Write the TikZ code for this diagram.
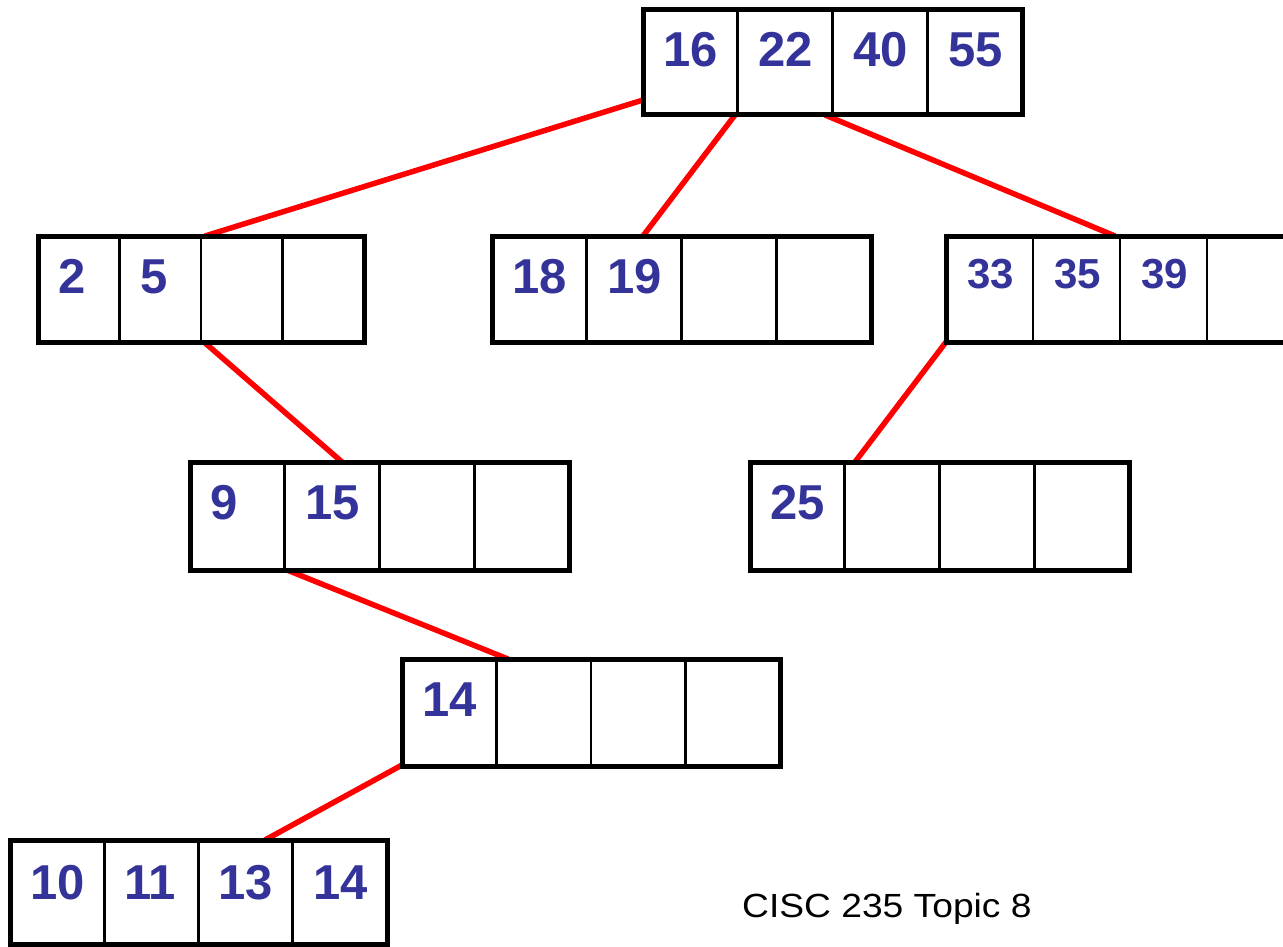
\documentclass[tikz,border=0pt]{standalone}
\usepackage{fontspec}
\setmainfont{Liberation Sans}
\usetikzlibrary{calc}
\definecolor{keyblue}{HTML}{333399}
\tikzset{
  bt/.style={draw=black, fill=white, line width=5pt, inner sep=0pt, outer sep=0pt, anchor=north west, minimum height=106pt},
  divider/.style={draw=black, line width=2.6pt},
  key/.style={text=keyblue, font=\fontsize{49}{49}\selectfont\bfseries, anchor=base west, inner sep=0pt},
  keysmall/.style={key, font=\fontsize{42}{42}\selectfont\bfseries},
  link/.style={draw=red, line width=5.5pt},
}
\newcommand{\divs}[1]{\foreach \i in {1,2,3}{\draw[divider] ($(#1.north west)!\i/4!(#1.north east)$) -- ($(#1.south west)!\i/4!(#1.south east)$);}}
\begin{document}
\begin{tikzpicture}[x=1pt,y=-1pt]
\useasboundingbox (0,0) rectangle (1283,947);
\begin{scope}
\clip (0,0) rectangle (1283,947);
% box positions
\path (643,10) coordinate (pR) (38,236) coordinate (pL) (492,236) coordinate (pM) (946,236) coordinate (pRB)
      (190,462) coordinate (pA) (750,462) coordinate (pB) (402,659) coordinate (pC) (10,840) coordinate (pD);
% links
\coordinate (l1a) at ($(pR)+(0,90)$);   \coordinate (l1b) at ($(pL)+(167,0)$);
\coordinate (l2a) at ($(pR)+(92,105)$); \coordinate (l2b) at ($(pM)+(151,0)$);
\coordinate (l3a) at ($(pR)+(182,105)$);\coordinate (l3b) at ($(pRB)+(169,0)$);
\coordinate (l4a) at ($(pL)+(166,106)$);\coordinate (l4b) at ($(pA)+(152,0)$);
\coordinate (l5a) at ($(pRB)+(0,106)$); \coordinate (l5b) at ($(pB)+(105,0)$);
\coordinate (l6a) at ($(pA)+(92,106)$); \coordinate (l6b) at ($(pC)+(106,0)$);
\coordinate (l7a) at ($(pC)+(0,106)$);  \coordinate (l7b) at ($(pD)+(255,0)$);
\draw[link] (l1a) -- (l1b);
\draw[link] (l2a) -- (l2b);
\draw[link] (l3a) -- (l3b);
\draw[link] (l4a) -- (l4b);
\draw[link] (l5a) -- (l5b);
\draw[link] (l6a) -- (l6b);
\draw[link] (l7a) -- (l7b);
% boxes
\node[bt, minimum width=379pt, minimum height=105pt] (R) at (pR) {}; \divs{R}
\node[bt, minimum width=326pt] (L) at (pL) {}; \divs{L}
\node[bt, minimum width=379pt] (M) at (pM) {}; \divs{M}
\node[bt, minimum width=348pt] (RB) at (pRB) {}; \divs{RB}
\node[bt, minimum width=379pt, minimum height=108pt] (A) at (pA) {}; \divs{A}
\node[bt, minimum width=379pt, minimum height=108pt] (B) at (pB) {}; \divs{B}
\node[bt, minimum width=378pt, minimum height=107pt] (C) at (pC) {}; \divs{C}
\node[bt, minimum width=377pt, minimum height=104pt] (D) at (pD) {}; \divs{D}
% keys
\node[key] (k16) at ($(pR)+(20,57)$) {16};
\node[key] (k22) at ($(pR)+(115,57)$) {22};
\node[key] (k40) at ($(pR)+(210,57)$) {40};
\node[key] (k55) at ($(pR)+(305,57)$) {55};
\node[key] (k2) at ($(pL)+(20,57)$) {2};
\node[key] (k5) at ($(pL)+(102,57)$) {5};
\node[key] (k18) at ($(pM)+(20,57)$) {18};
\node[key] (k19) at ($(pM)+(115,57)$) {19};
\node[keysmall] (k33) at ($(pRB)+(21,52)$) {33};
\node[keysmall] (k35) at ($(pRB)+(108,52)$) {35};
\node[keysmall] (k39) at ($(pRB)+(195,52)$) {39};
\node[key] (k9) at ($(pA)+(20,57)$) {9};
\node[key] (k15) at ($(pA)+(115,57)$) {15};
\node[key] (k25) at ($(pB)+(20,57)$) {25};
\node[key] (k14a) at ($(pC)+(20,57)$) {14};
\node[key] (k10) at ($(pD)+(20,59)$) {10};
\node[key] (k11) at ($(pD)+(114,59)$) {11};
\node[key] (k13) at ($(pD)+(208,59)$) {13};
\node[key] (k14b) at ($(pD)+(303,59)$) {14};
\end{scope}
\node[anchor=base west, inner sep=0pt, font=\fontsize{33.5}{33.5}\selectfont] (cap) at (742,917) {\scalebox{1.11}[1]{CISC 235 Topic 8}};
\end{tikzpicture}
\end{document}
